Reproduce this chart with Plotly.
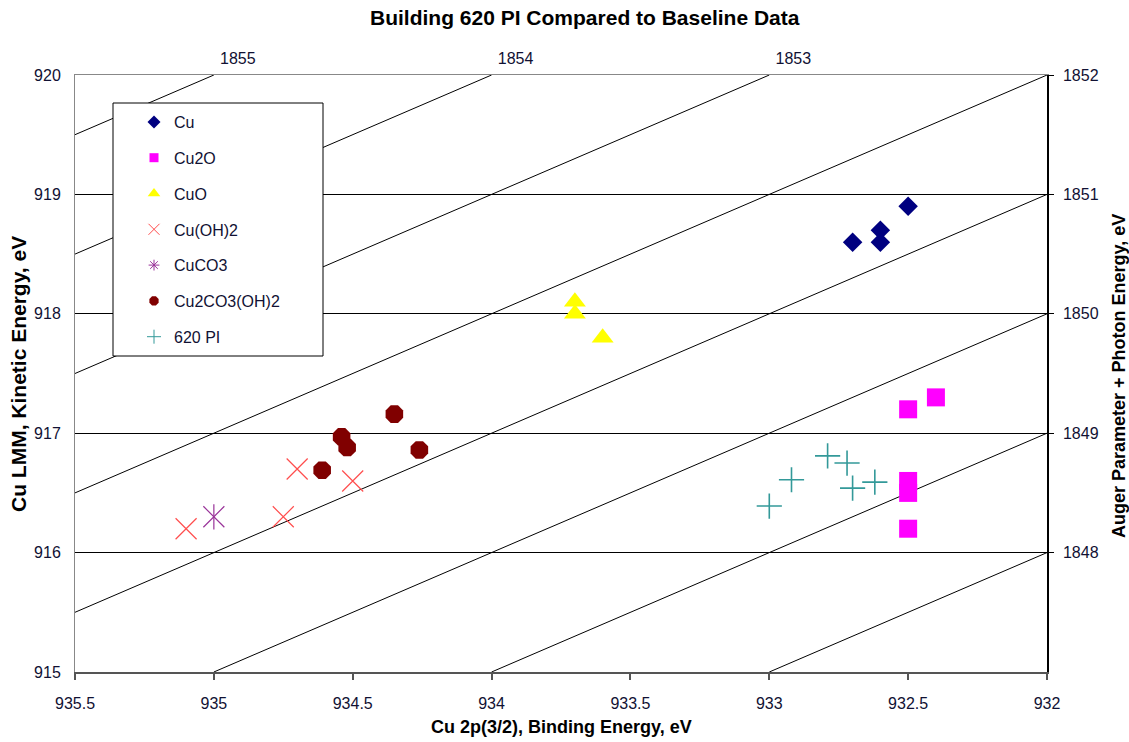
import plotly.graph_objects as go

# ---- data: Cu 2p(3/2) binding energy (eV) vs Cu LMM kinetic energy (eV) ----
cu_be = [932.7, 932.6, 932.6, 932.5]
cu_ke = [918.6, 918.6, 918.7, 918.9]

cu2o_be = [932.5, 932.4, 932.5, 932.5, 932.5]
cu2o_ke = [917.2, 917.3, 916.6, 916.5, 916.2]

cuo_be = [933.7, 933.7, 933.6]
cuo_ke = [918.1, 918.0, 917.8]

cuoh2_be = [935.1, 934.75, 934.7, 934.5]
cuoh2_ke = [916.2, 916.3, 916.7, 916.6]

cuco3_be = [935.0]
cuco3_ke = [916.3]

malachite_be = [934.61, 934.54, 934.52, 934.35, 934.26]
malachite_ke = [916.69, 916.97, 916.88, 917.16, 916.86]

pi620_be = [933.0, 932.92, 932.79, 932.72, 932.70, 932.62]
pi620_ke = [916.39, 916.61, 916.81, 916.75, 916.54, 916.59]

# constant Auger parameter (+ photon energy) lines, KE + BE = value
auger_values = [1848, 1849, 1850, 1851, 1852, 1853, 1854, 1855]

# axis ranges and tick labels
be_range = [935.5, 932.0]
ke_range = [915.0, 920.0]
be_ticks = [935.5, 935, 934.5, 934, 933.5, 933, 932.5, 932]
ke_ticks = [915, 916, 917, 918, 919, 920]
right_tick_ke = [920, 919, 918, 917, 916]
right_tick_labels = ["1852", "1851", "1850", "1849", "1848"]
top_tick_labels = ["1855", "1854", "1853"]

FONT = "Arial, Liberation Sans, sans-serif"

fig = go.Figure()

# diagonal iso-Auger-parameter lines clipped to the plotting box
lx, ly = [], []
be_min, be_max = min(be_range), max(be_range)
for ap in auger_values:
    lo = max(be_min, ap - ke_range[1])
    hi = min(be_max, ap - ke_range[0])
    if lo < hi:
        lx += [lo, hi, None]
        ly += [ap - lo, ap - hi, None]
fig.add_trace(go.Scatter(x=lx, y=ly, mode="lines",
                         line=dict(color="black", width=1),
                         hoverinfo="skip", showlegend=False))

series = [
    ("Cu", cu_be, cu_ke, dict(symbol="diamond", size=15, color="#000080")),
    ("Cu2O", cu2o_be, cu2o_ke, dict(symbol="square", size=18, color="#FF00FF")),
    ("CuO", cuo_be, cuo_ke, dict(symbol="triangle-up", size=19, color="#FFFF00")),
    ("Cu(OH)2", cuoh2_be, cuoh2_ke,
     dict(symbol="x-thin-open", size=21, color="#FF4D4D", line=dict(width=1.2, color="#FF4D4D"))),
    ("CuCO3", cuco3_be, cuco3_ke,
     dict(symbol="x-thin-open", size=21, color="#993399", line=dict(width=1.2, color="#993399"))),
    ("Cu2CO3(OH)2", malachite_be, malachite_ke, dict(symbol="octagon", size=19, color="#800000")),
    ("620 PI", pi620_be, pi620_ke,
     dict(symbol="cross-thin-open", size=18, color="#339999", line=dict(width=1.6, color="#339999"))),
]

legend_style = {
    "Cu": dict(symbol="diamond", size=10, color="#000080"),
    "Cu2O": dict(symbol="square", size=9, color="#FF00FF"),
    "CuO": dict(symbol="triangle-up", size=11, color="#FFFF00"),
    "Cu(OH)2": dict(symbol="x-thin-open", size=11, color="#FF4D4D", line=dict(width=1, color="#FF4D4D")),
    "CuCO3": dict(symbol="asterisk-open", size=9, color="#993399", line=dict(width=1, color="#993399")),
    "Cu2CO3(OH)2": dict(symbol="octagon", size=10, color="#800000"),
    "620 PI": dict(symbol="cross-thin-open", size=10, color="#339999", line=dict(width=1, color="#339999")),
}

for name, xs, ys, mk in series:
    fig.add_trace(go.Scatter(x=xs, y=ys, mode="markers", name=name, marker=mk,
                             legendgroup=name, showlegend=False))
    if name == "CuCO3":
        # vertical stroke completes the star marker
        fig.add_trace(go.Scatter(x=xs, y=ys, mode="markers", legendgroup=name, showlegend=False,
                                 marker=dict(symbol="line-ns-open", size=18, color="#993399",
                                             line=dict(width=1.2, color="#993399"))))
    # compact legend entry
    fig.add_trace(go.Scatter(x=[None], y=[None], mode="markers", name=name,
                             legendgroup=name, marker=legend_style[name]))

# dummy traces to activate the secondary axes
fig.add_trace(go.Scatter(x=[None], y=[None], xaxis="x2", yaxis="y", showlegend=False))
fig.add_trace(go.Scatter(x=[None], y=[None], xaxis="x", yaxis="y2", showlegend=False))

L, R, T, B = 75, 82, 75, 70
W, H = 1129, 742
pw, ph = W - L - R, H - T - B


def px_x(p):
    return (p - L) / pw


def px_y(p):
    return (H - B - p) / ph


tick_font = dict(family=FONT, size=16, color="#111133")

fig.update_layout(
    width=W, height=H,
    margin=dict(l=L, r=R, t=T, b=B),
    paper_bgcolor="white", plot_bgcolor="white",
    font=dict(family=FONT, size=16, color="black"),
    showlegend=True,
    legend=dict(x=px_x(134), y=px_y(105), xanchor="left", yanchor="top",
                bgcolor="rgba(0,0,0,0)", borderwidth=0,
                font=dict(family=FONT, size=16, color="#111133"),
                tracegroupgap=12, itemsizing="trace"),
    xaxis=dict(range=be_range, tickvals=be_ticks, ticktext=[f"{v:g}" for v in be_ticks],
               showgrid=False, zeroline=False, showline=True, linecolor="#555555", linewidth=1.5,
               ticks="outside", ticklen=6, tickcolor="#555555", tickwidth=1.5,
               tickfont=tick_font, ticklabelstandoff=10),
    xaxis2=dict(range=be_range, overlaying="x", side="top",
                tickvals=[int(v) - ke_range[1] for v in top_tick_labels], ticktext=top_tick_labels,
                showgrid=False, zeroline=False, showline=True, linecolor="#888888", linewidth=1,
                ticks="", tickfont=tick_font, ticklabelshift=-24, ticklabelstandoff=4),
    yaxis=dict(range=ke_range, tickvals=ke_ticks, ticktext=[str(v) for v in ke_ticks],
               showgrid=True, gridcolor="black", gridwidth=1.2, zeroline=False,
               showline=True, linecolor="#888888", linewidth=1,
               ticks="", tickfont=tick_font, ticklabelstandoff=10),
    yaxis2=dict(range=ke_range, overlaying="y", side="right",
                tickvals=right_tick_ke, ticktext=right_tick_labels,
                showgrid=False, zeroline=False, showline=True, linecolor="black", linewidth=1.5,
                ticks="outside", ticklen=5, tickcolor="black", tickwidth=1.2,
                tickfont=tick_font, ticklabelstandoff=6),
    shapes=[dict(type="rect", xref="paper", yref="paper",
                 x0=px_x(113), x1=px_x(323), y0=px_y(356), y1=px_y(103),
                 line=dict(color="black", width=1), fillcolor="white", layer="above")],
    annotations=[
        dict(text="<b>Building 620 PI Compared to Baseline Data</b>", xref="paper", yref="paper",
             x=px_x(585), y=px_y(17), xanchor="center", yanchor="middle", showarrow=False,
             font=dict(family=FONT, size=21, color="black")),
        dict(text="<b>Cu 2p(3/2), Binding Energy, eV</b>", xref="paper", yref="paper",
             x=px_x(561), y=px_y(727), xanchor="center", yanchor="middle", showarrow=False,
             font=dict(family=FONT, size=18, color="black")),
        dict(text="<b>Cu LMM, Kinetic Energy, eV</b>", xref="paper", yref="paper",
             x=px_x(18), y=px_y(374), xanchor="center", yanchor="middle", showarrow=False,
             textangle=-90, font=dict(family=FONT, size=21, color="black")),
        dict(text="<b>Auger Parameter + Photon Energy, eV</b>", xref="paper", yref="paper",
             x=px_x(1119), y=px_y(376), xanchor="center", yanchor="middle", showarrow=False,
             textangle=-90, font=dict(family=FONT, size=18, color="black")),
    ],
)

fig.write_html("out.html")
